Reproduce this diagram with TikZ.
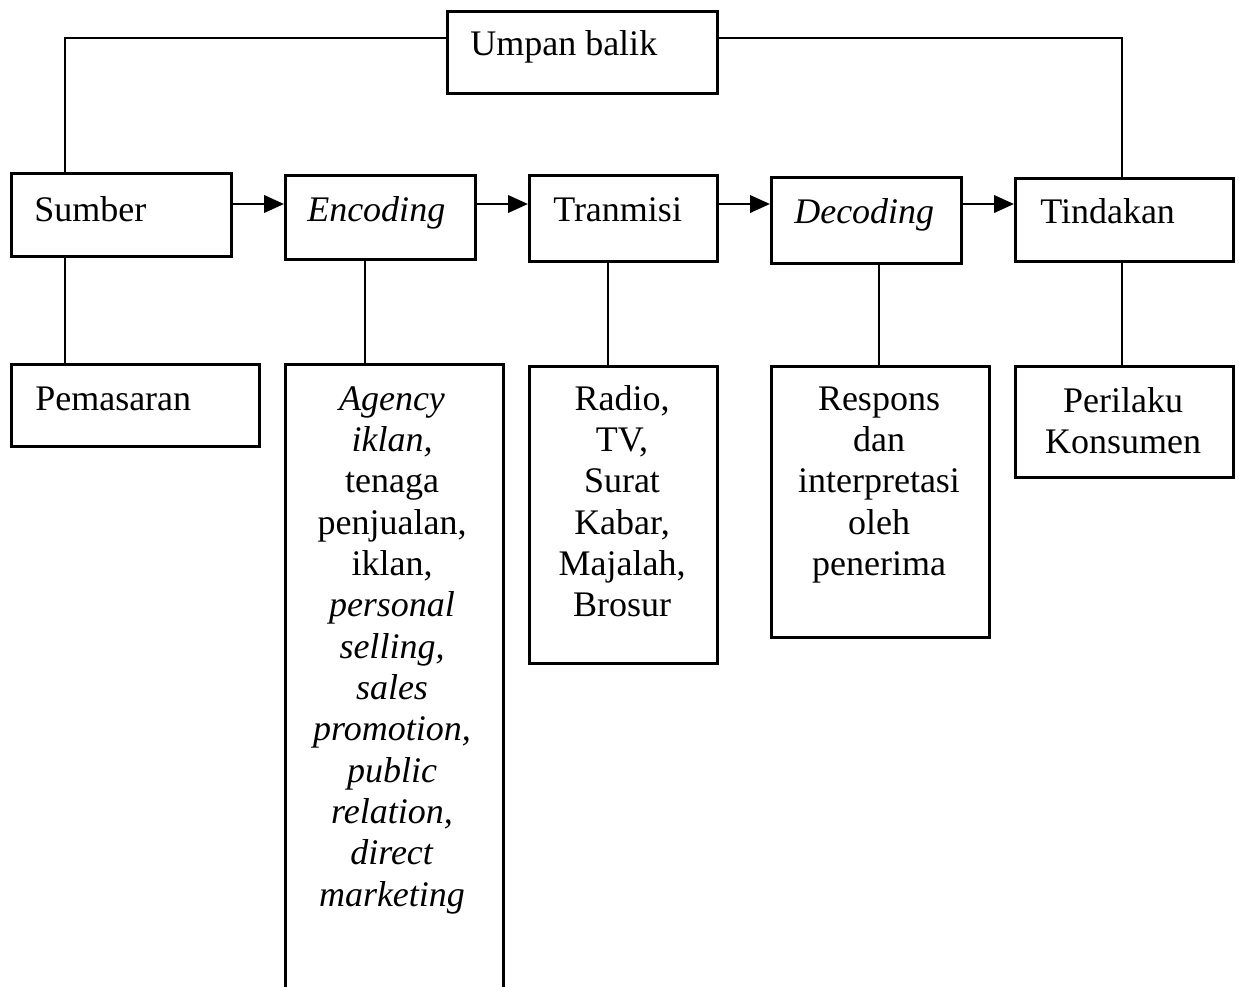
\documentclass[tikz,border=0pt]{standalone}
\usepackage{fontspec}
\setmainfont{Liberation Serif}
\usetikzlibrary{arrows.meta}
\begin{document}
\begin{tikzpicture}[x=0.75pt,y=-0.75pt,
  box/.style={draw, line width=2.1pt, inner sep=0pt, anchor=north west},
  lbl/.style={inner sep=0pt, font=\fontsize{27}{31}\selectfont},
  ln/.style={line width=2.1pt},
  arr/.style={line width=2.1pt, -{Triangle[length=15pt,width=13pt]}}]
\path[use as bounding box] (0,0) rectangle (1239,986);
\clip (0,0) rectangle (1239,986);
\newcommand\mkbox[5]{\node[box, minimum width={(#4-#2)*0.75pt}, minimum height={(#5-#3)*0.75pt}] (#1) at (#2,#3) {};}
% boxes
\mkbox{umpan}{446}{10}{716}{92}
\mkbox{sumber}{10}{172}{230}{255}
\mkbox{enc}{284}{174}{474}{258}
\mkbox{tran}{528}{174}{716}{260}
\mkbox{dec}{770}{176}{960}{262}
\mkbox{tind}{1014}{177}{1232}{260}
\mkbox{pem}{10}{363}{258}{445}
\mkbox{agency}{284}{363}{502}{1000}
\mkbox{radio}{528}{365}{716}{662}
\mkbox{resp}{770}{365}{988}{636}
\mkbox{peri}{1014}{365}{1232}{476}
% texts
\node[lbl, anchor=base west] (tumpan) at (470,55) {Umpan balik};
\node[lbl, anchor=base west] (tsumber) at (34,221) {Sumber};
\node[lbl, anchor=base west] (tenc) at (307,221) {\textit{Encoding}};
\node[lbl, anchor=base west] (ttran) at (553,221) {Tranmisi};
\node[lbl, anchor=base west] (tdec) at (794,223) {\textit{Decoding}};
\node[lbl, anchor=base west] (ttind) at (1040,223) {Tindakan};
\node[lbl, anchor=base west] (tpem) at (35,410) {Pemasaran};
\node[lbl, anchor=north, align=center] (tagency) at (392,381)
  {\strut\textit{Agency}\\ \textit{iklan,}\\ tenaga\\ penjualan,\\ iklan,\\ \textit{personal}\\ \textit{selling,}\\ \textit{sales}\\ \textit{promotion,}\\ \textit{public}\\ \textit{relation,}\\ \textit{direct}\\ \textit{marketing}};
\node[lbl, anchor=north, align=center] (tradio) at (622,381)
  {\strut Radio,\\ TV,\\ Surat\\ Kabar,\\ Majalah,\\ Brosur};
\node[lbl, anchor=north, align=center] (tresp) at (879,381)
  {\strut Respons\\ dan\\ interpretasi\\ oleh\\ penerima};
\node[lbl, anchor=north, align=center] (tperi) at (1123,383)
  {\strut Perilaku\\ Konsumen};
% arrows
\coordinate (ay) at (0,204);
\draw[arr] (sumber.east |- ay) -- (enc.west |- ay);
\draw[arr] (enc.east |- ay) -- (tran.west |- ay);
\draw[arr] (tran.east |- ay) -- (dec.west |- ay);
\draw[arr] (dec.east |- ay) -- (tind.west |- ay);
% vertical connectors
\coordinate (x1) at (65,0);
\coordinate (x2) at (365,0);
\coordinate (x3) at (608,0);
\coordinate (x4) at (879,0);
\coordinate (x5) at (1122,0);
\draw[ln] (sumber.south -| x1) -- (pem.north -| x1);
\draw[ln] (enc.south -| x2) -- (agency.north -| x2);
\draw[ln] (tran.south -| x3) -- (radio.north -| x3);
\draw[ln] (dec.south -| x4) -- (resp.north -| x4);
\draw[ln] (tind.south -| x5) -- (peri.north -| x5);
% feedback loop
\coordinate (fy) at (0,38);
\draw[ln] (sumber.north -| x1) -- (x1 |- fy) -- (umpan.west |- fy);
\draw[ln] (umpan.east |- fy) -- (x5 |- fy) -- (tind.north -| x5);
\end{tikzpicture}
\end{document}
